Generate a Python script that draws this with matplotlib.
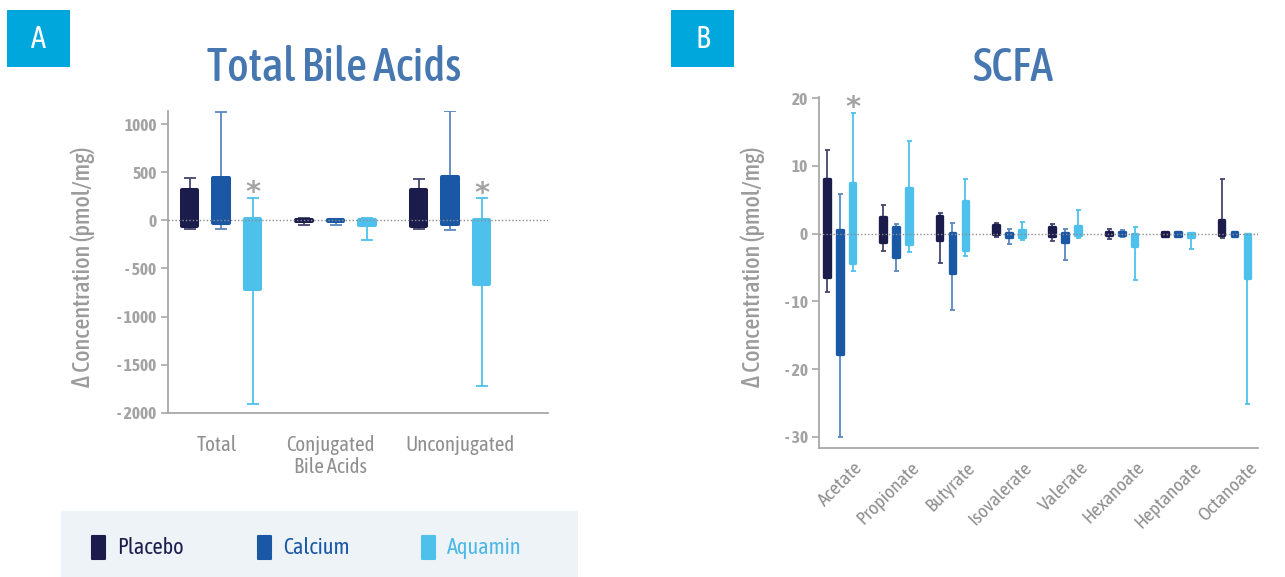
import matplotlib

matplotlib.use("Agg")

import matplotlib.pyplot as plt
import numpy as np
from matplotlib.patches import Rectangle

FONT = ["Asap Condensed", "DejaVu Sans"]
plt.rcParams["font.family"] = FONT

SERIES = ["Placebo", "Calcium", "Aquamin"]
BOX_COLORS = ["#1b1c4b", "#1a58a6", "#4dc1ec"]
WHISKER_COLORS = ["#44456e", "#5a87c2", "#4dc1ec"]
LEGEND_TEXT = ["#1b1c4b", "#1a58a6", "#4db8e6"]

# Panel A: bile acids (pmol/mg)
bile_categories = ["Total", "Conjugated\nBile Acids", "Unconjugated"]
bile_box_low = [[-59, -8, -62], [-24, -8, -38], [-714, -45, -666]]
bile_box_high = [[320, 8, 320], [441, 6, 448], [17, 0, 3]]
bile_whisker_low = [[-86, -48, -86], [-93, -52, -100], [-1907, -200, -1721]]
bile_whisker_high = [[441, 20, 434], [1131, 10, 1141], [234, 24, 228]]
bile_yticks = [1000, 500, 0, -500, -1000, -1500, -2000]
bile_yticklabels = ["1000", "500", "0", "- 500", "- 1000", "- 1500", "- 2000"]
bile_significant = [(2, 0), (2, 2)]

# Panel B: short-chain fatty acids (pmol/mg)
scfa_categories = ["Acetate", "Propionate", "Butyrate", "Isovalerate",
                   "Valerate", "Hexanoate", "Heptanoate", "Octanoate"]
scfa_box_low = [
    [-6.35, -1.23, -1.0, -0.1, -0.3, -0.25, -0.3, -0.25],
    [-17.8, -3.5, -5.8, -0.5, -1.2, -0.25, -0.3, -0.4],
    [-4.4, -1.5, -2.4, -0.45, -0.25, -1.9, -0.55, -6.55],
]
scfa_box_high = [
    [8.0, 2.46, 2.6, 1.2, 1.0, 0.25, 0.25, 2.0],
    [0.45, 1.0, 0.15, 0.15, 0.15, 0.2, 0.25, 0.2],
    [7.5, 6.7, 4.8, 0.55, 1.1, 0.0, 0.1, 0.0],
]
scfa_whisker_low = [
    [-8.7, -2.6, -4.4, -0.5, -1.1, -0.8, -0.3, -0.7],
    [-30.0, -5.6, -11.3, -1.6, -3.9, -0.55, -0.3, -0.5],
    [-5.6, -2.7, -3.35, -0.95, -0.65, -6.9, -2.35, -25.2],
]
scfa_whisker_high = [
    [12.4, 4.2, 3.0, 1.6, 1.4, 0.65, 0.25, 8.1],
    [5.9, 1.4, 1.5, 0.65, 0.65, 0.5, 0.25, 0.2],
    [17.8, 13.6, 8.1, 1.7, 3.45, 0.9, 0.1, 0.0],
]
scfa_yticks = [20, 10, 0, -10, -20, -30]
scfa_yticklabels = ["20", "10", "0", "- 10", "- 20", "- 30"]
scfa_significant = [(2, 0)]

TICK_GRAY = "#a3a3a3"
LABEL_GRAY = "#9b9b9b"
CAT_GRAY = "#8f8f8f"
TITLE_BLUE = "#4677b0"
BADGE_BLUE = "#00a7dd"

W, H = 1285, 577
fig = plt.figure(figsize=(W / 100, H / 100), dpi=100)


def px_rect(left, top, right, bottom):
    return [left / W, 1 - bottom / H, (right - left) / W, (bottom - top) / H]


def draw_boxes(ax, box_low, box_high, wlow, whigh, offset, width, lw, capsize):
    n = len(box_low[0])
    centers = np.arange(n)
    for i in range(len(SERIES)):
        x = centers + (i - 1) * offset
        lo = np.array(box_low[i], dtype=float)
        hi = np.array(box_high[i], dtype=float)
        wl = np.array(wlow[i], dtype=float)
        wh = np.array(whigh[i], dtype=float)
        mid = (wl + wh) / 2
        ax.errorbar(x, mid, yerr=[mid - wl, wh - mid], fmt="none",
                    ecolor=WHISKER_COLORS[i], elinewidth=1.3, capsize=capsize,
                    capthick=1.3, zorder=2)
        ax.bar(x, hi - lo, bottom=lo, width=width, color=BOX_COLORS[i],
               edgecolor=BOX_COLORS[i], linewidth=lw, joinstyle="round", zorder=3)


def style_axis(ax, yticks, yticklabels, ylim, xlim):
    ax.set_ylim(*ylim)
    ax.set_xlim(*xlim)
    ax.set_yticks(yticks)
    ax.set_yticklabels(yticklabels, fontsize=12.5, fontweight="bold", color=TICK_GRAY)
    for side in ("top", "right"):
        ax.spines[side].set_visible(False)
    for side in ("left", "bottom"):
        ax.spines[side].set_color("#a8a8a8")
        ax.spines[side].set_linewidth(1.3)
    ax.tick_params(axis="y", length=5, width=1.2, color="#a8a8a8", pad=3)
    ax.axhline(0, color="#8c8c8c", linestyle=(0, (1, 1.5)), linewidth=1.0, zorder=4)


def star(ax, x, y):
    ax.annotate("*", xy=(x, y), xytext=(0, -2.5), textcoords="offset points",
                ha="center", va="baseline", fontsize=21, fontweight="bold",
                color="#a3a3a3", family="DejaVu Sans")


# ---- Panel A ----
ax_a = fig.add_axes(px_rect(167.7, 110.7, 547.7, 412.7))
draw_boxes(ax_a, bile_box_low, bile_box_high, bile_whisker_low, bile_whisker_high,
           offset=0.275, width=0.137, lw=2.9, capsize=4)
style_axis(ax_a, bile_yticks, bile_yticklabels, (-2000, 1140), (-0.466, 2.853))
ax_a.set_xticks([-0.04, 0.955, 2.09])
ax_a.set_xticklabels(bile_categories, fontsize=15, color=CAT_GRAY, linespacing=1.15,
                     va="top")
ax_a.tick_params(axis="x", length=0, pad=16)
for i, j in bile_significant:
    star(ax_a, j + (i - 1) * 0.275, bile_whisker_high[i][j])

# ---- Panel B ----
ax_b = fig.add_axes(px_rect(819, 96.7, 1258, 448.3))
draw_boxes(ax_b, scfa_box_low, scfa_box_high, scfa_whisker_low, scfa_whisker_high,
           offset=0.23, width=0.1, lw=2.4, capsize=1.8)
style_axis(ax_b, scfa_yticks, scfa_yticklabels, (-31.7, 20.2), (-0.367, 7.417))
ax_b.set_xticks(np.arange(len(scfa_categories)) + 0.36)
ax_b.set_xticklabels(scfa_categories, fontsize=14, color=CAT_GRAY, rotation=45,
                     ha="right", va="center", rotation_mode="anchor")
ax_b.tick_params(axis="x", length=0, pad=12)
for i, j in scfa_significant:
    star(ax_b, j + (i - 1) * 0.23, scfa_whisker_high[i][j])

# ---- titles, badges, axis labels ----
for cx, title in ((334, "Total Bile Acids"), (1012.7, "SCFA")):
    fig.text(cx / W, 1 - 81 / H, title, ha="center", va="baseline", fontsize=33,
             fontweight="medium", color=TITLE_BLUE)

for left, letter in ((7, "A"), (671, "B")):
    fig.patches.append(Rectangle((left / W, 1 - 67 / H), 63 / W, 57 / H,
                                 transform=fig.transFigure, facecolor=BADGE_BLUE,
                                 edgecolor="none"))
    fig.text((left + 31.5) / W, 1 - 40 / H, letter, ha="center", va="center",
             fontsize=22, color="white")

for cx in (82.5, 753):
    fig.text(cx / W, 1 - 266.5 / H, "\u0394 Concentration (pmol/mg)", rotation=90,
             ha="center", va="center", fontsize=17.5, fontweight="medium",
             color=LABEL_GRAY)

# ---- legend strip ----
fig.patches.append(Rectangle((61 / W, 0), (578 - 61) / W, (577 - 511) / H,
                             transform=fig.transFigure, facecolor="#eef3f7",
                             edgecolor="none", zorder=0))
for name, box_c, text_c, x0 in zip(SERIES, BOX_COLORS, LEGEND_TEXT, (91, 257, 421)):
    fig.patches.append(Rectangle(((x0 + 1) / W, 1 - 559 / H), 13 / W, 23 / H,
                                 transform=fig.transFigure, facecolor=box_c,
                                 edgecolor=box_c, linewidth=1.5, joinstyle="round"))
    fig.text((x0 + 26) / W, 1 - 548 / H, name, ha="left", va="center",
             fontsize=16, color=text_c)

fig.savefig("out.png", dpi=100)
